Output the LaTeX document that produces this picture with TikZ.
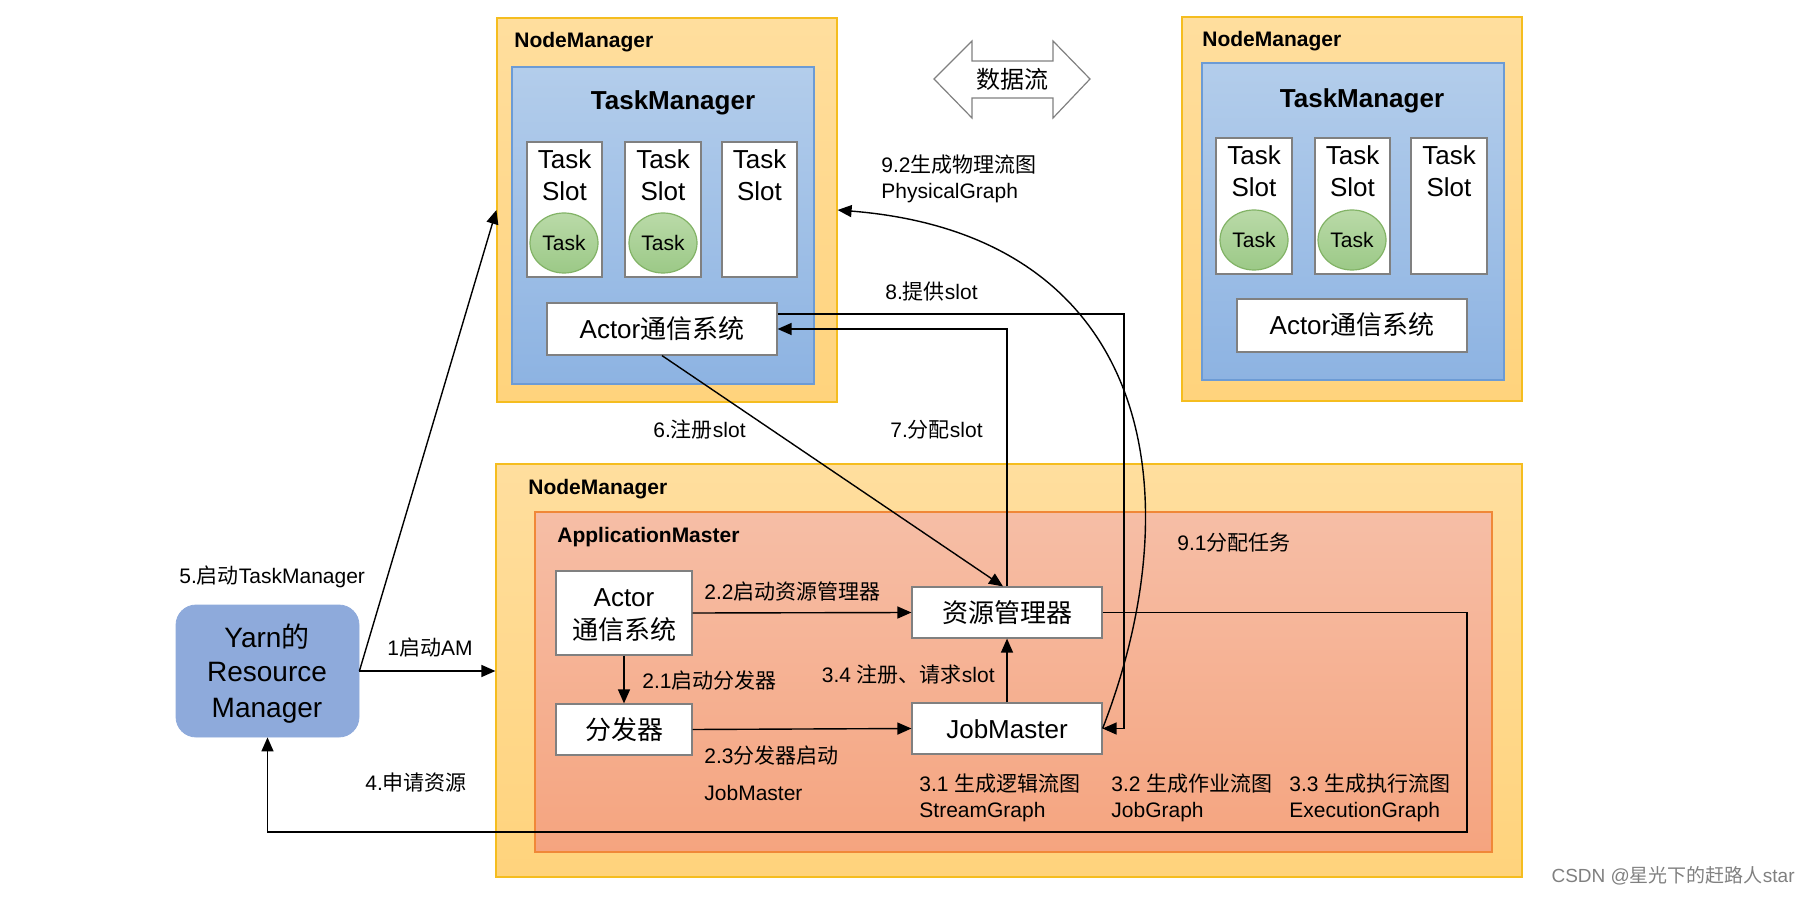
\documentclass[tikz,border=0pt]{standalone}
\usepackage{fontspec}
\setmainfont{Liberation Sans}
\newfontfamily\cjk{Noto Sans CJK SC}
\usetikzlibrary{shapes.geometric,arrows.meta,fit,calc}
\newcommand\zhs[1]{{\cjk #1}}
\definecolor{nmtop}{HTML}{FFDE9E}
\definecolor{nmbot}{HTML}{FFD37C}
\definecolor{nmborder}{HTML}{F5BD1F}
\definecolor{tmtop}{HTML}{B3CDEB}
\definecolor{tmbot}{HTML}{8DB3E2}
\definecolor{tmborder}{HTML}{6C9BD5}
\definecolor{amtop}{HTML}{F6BEA6}
\definecolor{ambot}{HTML}{F5A47F}
\definecolor{amborder}{HTML}{F08838}
\definecolor{yarnfill}{HTML}{8EAADB}
\definecolor{tasktop}{HTML}{BADAA8}
\definecolor{taskbot}{HTML}{9CC987}
\definecolor{taskborder}{HTML}{82B366}
\definecolor{boxborder}{HTML}{808080}
\begin{document}
\begin{tikzpicture}[x=0.5pt,y=-0.5pt,
  nmbox/.style={draw=nmborder, line width=0.6pt, top color=nmtop, bottom color=nmbot, inner sep=0pt},
  tmbox/.style={draw=tmborder, line width=0.6pt, top color=tmtop, bottom color=tmbot, inner sep=0pt},
  ambox/.style={draw=amborder, line width=0.6pt, top color=amtop, bottom color=ambot, inner sep=0pt},
  wbox/.style={draw=boxborder, fill=white, line width=0.6pt, inner sep=0pt},
  boxtxt/.style={anchor=base, inner sep=0pt, font=\fontsize{13}{16}\selectfont},
  yarntxt/.style={anchor=base, inner sep=0pt, font=\fontsize{14}{17}\selectfont},
  slottxt/.style={anchor=north, inner sep=0pt, align=center, font=\fontsize{13}{16}\selectfont},
  task/.style={ellipse, draw=taskborder, line width=0.6pt, top color=tasktop, bottom color=taskbot, minimum width=34pt, minimum height=30pt, inner sep=0pt, font=\fontsize{10.5}{12}\selectfont},
  title/.style={anchor=west, inner sep=0pt, font=\bfseries\fontsize{10.5}{13}\selectfont},
  bigtitle/.style={inner sep=0pt, font=\bfseries\fontsize{13}{16}\selectfont},
  lbl/.style={anchor=west, inner sep=0pt, align=left, font=\fontsize{10.5}{13}\selectfont},
  yarnbox/.style={fill=yarnfill, draw=yarnfill, rounded corners=10pt, inner sep=0pt},
  arr/.style={draw, line width=0.7pt, -{Triangle[length=7pt,width=6pt]}}
]
\useasboundingbox (0,0) rectangle (1808,897);

% ---------- top-left NodeManager ----------
\node[nmbox, fit={(497,18) (837,402)}] (nm1) {};
\node[tmbox, fit={(512,67) (814,384)}] (tm1) {};
\node[title] (nm1t) at (514,42) {NodeManager};
\node[bigtitle] (tm1t) at (673,103) {TaskManager};
\node[wbox, fit={(527,142) (602,277)}] (s11) {};
\node[wbox, fit={(625,142) (701,277)}] (s12) {};
\node[wbox, fit={(722,142) (797,277)}] (s13) {};
\node[slottxt] (s11t) at ($(s11.north)+(0,8)$) {Task\\Slot};
\node[slottxt] (s12t) at ($(s12.north)+(0,8)$) {Task\\Slot};
\node[slottxt] (s13t) at ($(s13.north)+(0,8)$) {Task\\Slot};
\node[task] (t11) at (564,243) {Task};
\node[task] (t12) at (663,243) {Task};
\node[wbox, fit={(547,303) (777,355)}] (a1) {};
\node[boxtxt] (a1t) at ($(a1.center)+(0,9.5)$) {Actor\zhs{通信系统}};

% ---------- top-right NodeManager ----------
\node[nmbox, fit={(1182,17) (1522,401)}] (nm2) {};
\node[tmbox, fit={(1202,63) (1504,380)}] (tm2) {};
\node[title] (nm2t) at (1202,41) {NodeManager};
\node[bigtitle] (tm2t) at (1362,101) {TaskManager};
\node[wbox, fit={(1216,138) (1292,274)}] (s21) {};
\node[wbox, fit={(1315,138) (1390,274)}] (s22) {};
\node[wbox, fit={(1411,138) (1487,274)}] (s23) {};
\node[slottxt] (s21t) at ($(s21.north)+(0,8)$) {Task\\Slot};
\node[slottxt] (s22t) at ($(s22.north)+(0,8)$) {Task\\Slot};
\node[slottxt] (s23t) at ($(s23.north)+(0,8)$) {Task\\Slot};
\node[task] (t21) at (1254,240) {Task};
\node[task] (t22) at (1352,240) {Task};
\node[wbox, fit={(1237,299) (1467,352)}] (a3) {};
\node[boxtxt] (a3t) at ($(a3.center)+(0,9.5)$) {Actor\zhs{通信系统}};

% ---------- data flow double arrow ----------
\draw[draw=boxborder, fill=white, line width=0.6pt] (934,79) -- (972,41) -- (972,61) -- (1053,61) -- (1053,41) -- (1090,79) -- (1053,118) -- (1053,98) -- (972,98) -- (972,118) -- cycle;
\node[inner sep=0pt, font=\fontsize{12}{14}\selectfont\cjk] (df) at (1012,79) {数据流};

% ---------- bottom NodeManager ----------
\node[nmbox, fit={(496,464) (1522,877)}] (nm3) {};
\node[ambox, fit={(535,512) (1492,852)}] (am) {};
\node[title] (nm3t) at (528,489) {NodeManager};
\node[title] (amt) at (557,537) {ApplicationMaster};
\node[wbox, fit={(556,571) (692,655)}] (a2) {};
\node[boxtxt] (a2t1) at (624,606.5) {Actor};
\node[boxtxt] (a2t2) at (624,639.5) {\zhs{通信系统}};
\node[wbox, fit={(556,704) (692,755)}] (disp) {};
\node[boxtxt] (dispt) at ($(disp.center)+(0,9.5)$) {\zhs{分发器}};
\node[wbox, fit={(912,587) (1102,638)}] (rm) {};
\node[boxtxt] (rmt) at ($(rm.center)+(0,9.5)$) {\zhs{资源管理器}};
\node[wbox, fit={(912,703) (1102,754)}] (jm) {};
\node[boxtxt] (jmt) at ($(jm.center)+(0,9.5)$) {JobMaster};

% ---------- Yarn ----------
\node[yarnbox, fit={(176,605) (359,737)}] (yarn) {};
\node[yarntxt] (y1) at (267,647) {Yarn\zhs{的}};
\node[yarntxt] (y2) at (267,681) {Resource};
\node[yarntxt] (y3) at (267,717) {Manager};

% ---------- labels ----------
\node[lbl] (l92) at (881,179) {9.2\zhs{生成物理流图}\\PhysicalGraph};
\node[lbl] (l8) at (885,292) {8.\zhs{提供}slot};
\node[lbl] (l6) at (653,430) {6.\zhs{注册}slot};
\node[lbl] (l7) at (890,430) {7.\zhs{分配}slot};
\node[lbl] (l91) at (1177,543) {9.1\zhs{分配任务}};
\node[lbl] (l5) at (179,577) {5.\zhs{启动}TaskManager};
\node[lbl] (l1) at (387,648) {1\zhs{启动}AM};
\node[lbl] (l4) at (365,783) {4.\zhs{申请资源}};
\node[lbl] (l22) at (704,591) {2.2\zhs{启动资源管理器}};
\node[lbl] (l21) at (642,681) {2.1\zhs{启动分发器}};
\node[lbl] (l23) at (704,756) {2.3\zhs{分发器启动}};
\node[lbl] (l23b) at (704,793) {JobMaster};
\node[lbl, anchor=east] (l34) at (995,675) {3.4 \zhs{注册、请求}slot};
\node[lbl] (l31) at (919,798) {3.1 \zhs{生成逻辑流图}\\StreamGraph};
\node[lbl] (l32) at (1111,798) {3.2 \zhs{生成作业流图}\\JobGraph};
\node[lbl] (l33) at (1289,798) {3.3 \zhs{生成执行流图}\\ExecutionGraph};
\node[anchor=east, inner sep=0pt, text=gray, font=\fontsize{9.5}{11}\selectfont] (wm) at (1795,876) {CSDN @\zhs{星光下的赶路人}star};

% ---------- connectors ----------
\draw[arr] (yarn.east) -- (yarn.east -| nm3.west);
\draw[arr] (yarn.east) -- (nm1.west);
\coordinate (c4a) at (1467,613);
\coordinate (c4b) at (1467,832);
\draw[arr] (rm.east) -- (rm.east -| c4a) -- (c4b) -| (yarn.south);
\draw[arr] (a2.south) -- (disp.north);
\draw[arr] (a2.east) -- (rm.west);
\draw[arr] (disp.east) -- (jm.west);
\draw[arr] (jm.north) -- (rm.south);
\draw[arr] (a1.south) -- ($(rm.north)+(-4,0)$);
\draw[arr] (rm.north) |- (a1.east);
\coordinate (c8) at (1124,314);
\draw[arr] (a1.east |- c8) -- (c8) |- (jm.east);
\draw[arr] (jm.east) .. controls (1195,490) and (1150,235) .. (nm1.east);
\end{tikzpicture}
\end{document}
